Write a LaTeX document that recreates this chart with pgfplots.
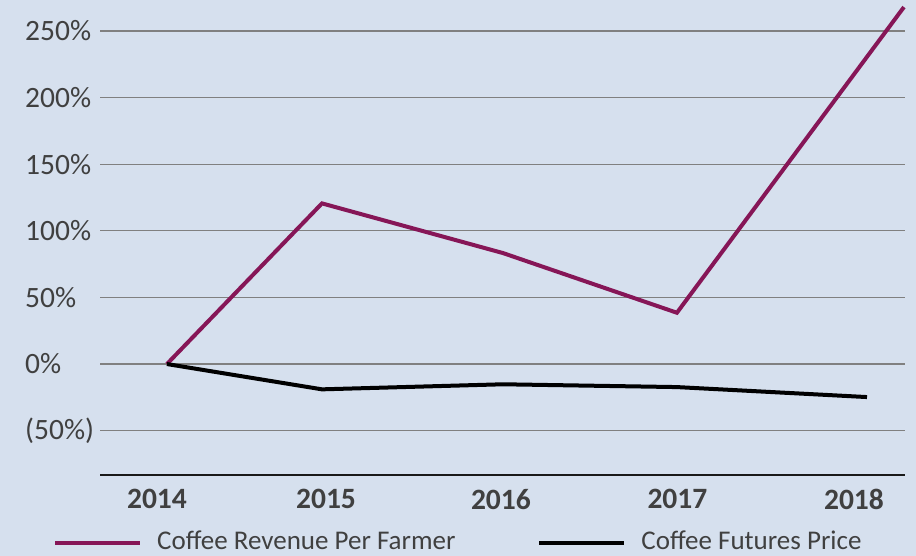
\documentclass[border=0pt]{standalone}
\usepackage{fontspec}
\setmainfont{Carlito}
\usepackage{pgfplots}
\pgfplotsset{compat=1.18}
\definecolor{bg}{RGB}{214,224,238}
\definecolor{purp}{RGB}{134,22,87}
\definecolor{txt}{RGB}{64,64,64}
\definecolor{gridc}{RGB}{128,128,128}
\begin{document}
\begin{tikzpicture}[x=1pt,y=1pt]
\fill[bg] (0,0) rectangle (916,556);
\useasboundingbox (0,0) rectangle (916,556);
\begin{axis}[
  at={(100pt,81pt)}, anchor=south west,
  scale only axis, width=805pt, height=475pt,
  xmin=2013.673, xmax=2018.293,
  ymin=-83.3, ymax=273.3,
  axis x line*=bottom, axis y line*=left,
  y axis line style={draw=none},
  x axis line style={draw=black!90, line width=1.2pt},
  tick style={draw=none},
  major tick length=0pt,
  ytick={-50,0,50,100,150,200,250},
  yticklabels={(50\%),0\%,50\%,100\%,150\%,200\%,250\%},
  xtick={2014,2014.97,2015.974,2016.987,2018},
  xticklabels={2014,2015,2016,2017,2018},
  ymajorgrids,
  grid style={draw=gridc, line width=1.3pt},
  yticklabel style={anchor=west, inner sep=0pt, xshift=-75pt, text=txt, font=\fontsize{29.5}{32}\selectfont},
  xticklabel style={anchor=north, inner sep=0pt, yshift=-14pt, text=txt, font=\bfseries\fontsize{29.5}{32}\selectfont},
  legend columns=2,
  legend style={at={(rel axis cs:-0.0584,-0.138)}, anchor=west, draw=none, fill=none,
    inner sep=0pt, text=txt, font=\fontsize{27}{30}\selectfont,
    nodes={inner sep=1pt, text depth=0pt},
    /tikz/every odd column/.append style={column sep=14pt},
    /tikz/every even column/.append style={column sep=81pt}},
  legend image code/.code={\draw[#1] (0pt,-2pt) -- (85pt,-2pt);},
  clip=false,
]
\addplot[purp, line width=4pt, line join=miter] coordinates {
  (2014.057,0) (2014.947,120.6) (2015.986,83.3) (2016.984,38.5) (2018.287,268)
};
\addlegendentry{Coffee Revenue Per Farmer}
\addplot[black, line width=4pt, line join=round] coordinates {
  (2014.057,0) (2014.947,-19) (2015.986,-15.2) (2016.984,-17.3) (2018.075,-24.8)
};
\addlegendentry{Coffee Futures Price}
\end{axis}
\end{tikzpicture}
\end{document}
